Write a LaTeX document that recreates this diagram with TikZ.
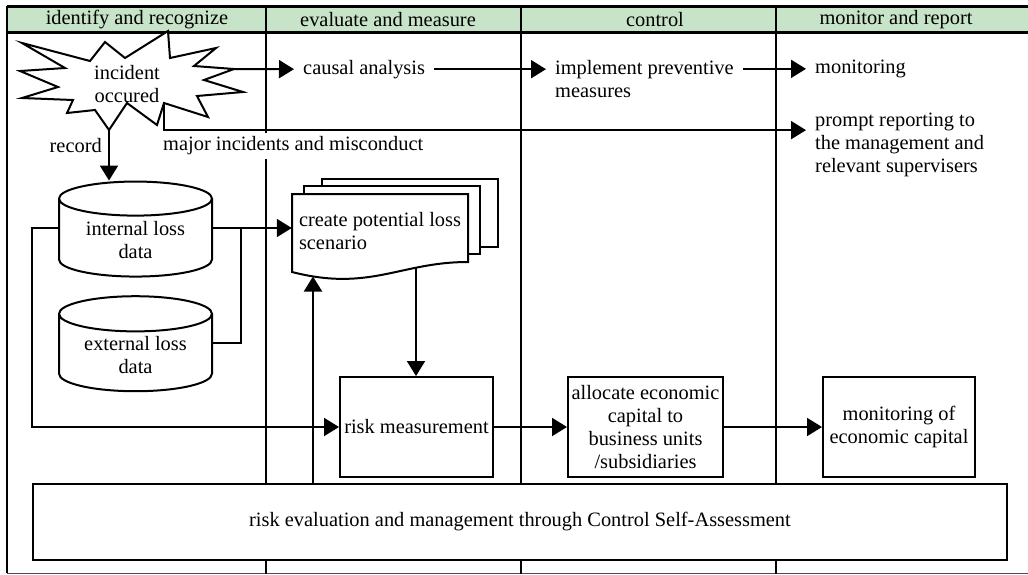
\documentclass[tikz,border=0pt]{standalone}
\usepackage{fontspec}
\setmainfont{Liberation Serif}
\usepackage{tikz}
\usetikzlibrary{shapes.geometric,arrows.meta}
\definecolor{headgreen}{RGB}{200,228,200}

\begin{document}
\begin{tikzpicture}[x=1pt,y=-1pt,
  every node/.style={font=\fontsize{20.4}{23}\selectfont},
  line/.style={line width=2pt},
  arr/.style={line width=2pt,-{Triangle[length=15pt,width=18pt]}},
  box/.style={draw,line width=2pt,fill=white,align=center,inner sep=2pt},
  db/.style={cylinder,shape border rotate=90,draw,line width=2pt,fill=white,aspect=0.33,
    minimum width=153pt,minimum height=95pt,align=center,inner sep=2pt},
  lbl/.style={align=left,inner xsep=9pt,inner ysep=2pt}]
\useasboundingbox (0,0) rectangle (1028,574);
\fill[headgreen] (7,6) rectangle (1028,32);
\draw[line width=3pt] (7,6) -- (1028,6) (7,32) -- (1028,32);
\draw[line] (7,6) -- (7,573);
\draw[line width=1pt,black!70] (7,573) -- (1028,573);
\foreach \x in {266,521,776}
    \draw[line] (\x,6) -- (\x,574);
\foreach \x/\t/\n in {137/identify and recognize/hid, 388/evaluate and measure/hev,
    655/control/hco, 896/monitor and report/hmo}
    \node (\n) at (\x,20) {\t};

\draw[line,fill=white,line join=miter] (22,43) -- (90,61) -- (105,42) -- (125,58) -- (168,31)
  -- (170,58) -- (216,48) -- (194,66) -- (234,69) -- (204,80) -- (243,92) -- (197,96)
  -- (208,117) -- (164,103) -- (157,125) -- (127,103) -- (109,130) -- (95,110) -- (67,113)
  -- (73,100) -- (22,98) -- (58,87) -- (20,71) -- (65,68) -- cycle;
\coordinate (bR) at (234,69);
\coordinate (bS) at (109,130);
\coordinate (bM) at (164,103);
\node[align=center] (incident) at (127,84) {incident\\occured};

\node[lbl,anchor=north west] (causal) at (294,57.7) {causal analysis};
\node[lbl,anchor=north west] (impl) at (546,57.7) {implement preventive\\measures};
\node[lbl,anchor=north west] (mon) at (806,57.7) {monitoring};
\node[lbl,anchor=north west] (prompt) at (806,111) {prompt reporting to\\the management and\\relevant supervisers};
\node[anchor=east,inner sep=2pt] (rec) at (104,146) {record};
\node[anchor=west,fill=white,inner xsep=1pt,inner ysep=4pt] (major) at (162,146) {major incidents and misconduct};

\node[db] (intl) at (135.5,240) {internal loss\\data};
\node[db] (ext) at (135.5,355) {external loss\\data};

\draw[line,fill=white] (322,179) rectangle (498,247);
\draw[line,fill=white] (304,186) rectangle (480,254);
\draw[line,fill=white] (292,194) -- (468,194) -- (468,262) .. controls (400,262) and (370,292) .. (292,272) -- cycle;
\node[align=left,minimum width=176pt,minimum height=68pt] (scen) at (380,231.5) {create potential loss\\scenario};
\coordinate (scenA) at (313,276.5);
\coordinate (scenB) at (416,267);

\node[box,minimum width=153pt,minimum height=100pt] (risk) at (416.5,427) {risk measurement};
\node[box,minimum width=155pt,minimum height=100pt] (alloc) at (645.5,427) {allocate economic\\capital to\\business units\\/subsidiaries};
\node[box,minimum width=152pt,minimum height=100pt] (monit) at (899,427) {monitoring of\\economic capital};
\node[box,minimum width=974pt,minimum height=76pt] (csa) at (520,522) {risk evaluation and management through Control Self-Assessment};

\draw[arr] (bR) -- (causal.west);
\draw[arr] (causal.east) -- (causal.east -| impl.west);
\draw[arr] (impl.east |- mon.west) -- (mon.west);
\draw[arr] (bM) |- ([yshift=15pt]prompt.west);
\draw[arr] (bS) -- (bS |- intl.north);
\draw[arr] ([yshift=12pt]intl.east) -- ([yshift=12pt]intl.east -| scen.west);
\draw[line] ([yshift=12pt]ext.east) -- ++(28,0) |- ([yshift=12pt]intl.east);
\draw[arr] ([yshift=12pt]intl.west) -- ++(-26,0) |- (risk.west);
\draw[arr] (scenB) -- (scenB |- risk.north);
\draw[arr] (csa.north -| scenA) -- (scenA);
\draw[arr] (risk) -- (alloc);
\draw[arr] (alloc) -- (monit);
\end{tikzpicture}
\end{document}
